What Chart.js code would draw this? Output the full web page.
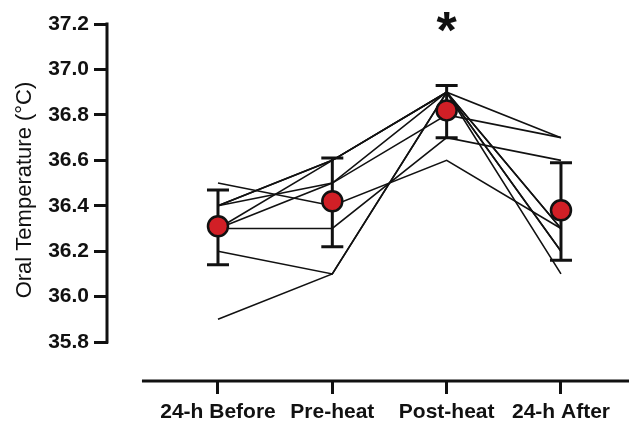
<!DOCTYPE html>
<html>
<head>
<meta charset="utf-8">
<script src="https://cdn.jsdelivr.net/npm/chart.js@4.4.1/dist/chart.umd.min.js"></script>
<style>
    html, body { margin: 0; padding: 0; background: #fff; }
    #wrap { width: 629px; height: 425px; position: relative; }
</style>
</head>
<body>
<div id="wrap"><canvas id="tempChart"></canvas></div>
<script>
// Oral temperature per participant across the four time points

const timepoints = ['24-h Before', 'Pre-heat', 'Post-heat', '24-h After'];
const yTicks = [35.8, 36.0, 36.2, 36.4, 36.6, 36.8, 37.0, 37.2];

// Individual participants (thin black lines)
const subject1 = [36.5, 36.4, 36.6, 36.3];
const subject2 = [36.3, 36.3, 36.7, 36.6];
const subject3 = [36.2, 36.1, 36.9, 36.2];
const subject4 = [35.9, 36.1, 36.9, 36.1];
const subject5 = [36.4, 36.6, 36.9, 36.7];
const subject6 = [36.4, 36.6, 36.9, 36.3];
const subject7 = [36.4, 36.5, 36.8, 36.7];
const subject8 = [36.3, 36.6, 36.9, 36.2];
const subject9 = [36.3, 36.5, 36.9, 36.3];
const subjects = [subject1, subject2, subject3, subject4, subject5, subject6, subject7, subject8, subject9];

// Group mean and error bar ends
const meanTemp = [36.31, 36.42, 36.82, 36.38];
const errHigh = [36.47, 36.61, 36.93, 36.59];
const errLow = [36.14, 36.22, 36.70, 36.16];

// Significance marker
const sigIndex = 2;
const sigLabel = '*';
const sigY = 37.21;

const FONT = "'Liberation Sans', Arial, sans-serif";
const INK = '#111';

function toPoints(arr) {
    return arr.map((v, i) => ({ x: i, y: v }));
}

// Ejes separados, barras de error y asterisco
const decorPlugin = {
    id: 'decor',
    beforeDatasetsDraw(chart) {
        const { ctx, chartArea, scales: { x, y } } = chart;
        ctx.save();
        ctx.strokeStyle = INK;
        ctx.lineWidth = 3;

        // eje Y: solo entre 35.8 y 37.2
        ctx.beginPath();
        ctx.moveTo(chartArea.left - 1, y.getPixelForValue(yTicks[yTicks.length - 1]) - 1.5);
        ctx.lineTo(chartArea.left - 1, y.getPixelForValue(yTicks[0]) + 1.5);
        ctx.stroke();

        // eje X: separado del eje Y
        ctx.beginPath();
        ctx.moveTo(x.getPixelForValue(-0.665), chartArea.bottom + 1);
        ctx.lineTo(chartArea.right, chartArea.bottom + 1);
        ctx.stroke();

        // barras de error
        meanTemp.forEach((m, i) => {
            const px = x.getPixelForValue(i);
            const yHi = y.getPixelForValue(errHigh[i]);
            const yLo = y.getPixelForValue(errLow[i]);
            ctx.beginPath();
            ctx.moveTo(px, yHi);
            ctx.lineTo(px, yLo);
            ctx.moveTo(px - 11, yHi);
            ctx.lineTo(px + 11, yHi);
            ctx.moveTo(px - 11, yLo);
            ctx.lineTo(px + 11, yLo);
            ctx.stroke();
        });
        ctx.restore();
    },
    afterDraw(chart) {
        const { ctx, scales: { x, y } } = chart;
        ctx.save();
        ctx.fillStyle = INK;
        ctx.font = 'bold 52px ' + FONT;
        ctx.textAlign = 'center';
        ctx.textBaseline = 'alphabetic';
        const m = ctx.measureText(sigLabel);
        const cy = y.getPixelForValue(sigY);
        const base = cy + (m.actualBoundingBoxAscent - m.actualBoundingBoxDescent) / 2;
        ctx.fillText(sigLabel, x.getPixelForValue(sigIndex), base);
        ctx.restore();
    }
};

const datasets = [{
    label: 'Mean',
    data: toPoints(meanTemp),
    showLine: false,
    pointRadius: 10,
    pointBackgroundColor: '#d11f26',
    pointBorderColor: INK,
    pointBorderWidth: 2.5
}];

subjects.forEach((s, i) => {
    datasets.push({
        label: 'Participant ' + (i + 1),
        data: toPoints(s),
        borderColor: INK,
        borderWidth: 1.6,
        pointRadius: 0,
        tension: 0,
        fill: false
    });
});

new Chart(document.getElementById('tempChart'), {
    type: 'line',
    data: { datasets },
    plugins: [decorPlugin],
    options: {
        responsive: true,
        maintainAspectRatio: false,
        animation: false,
        devicePixelRatio: 1,
        layout: { padding: 0, autoPadding: false },
        plugins: {
            legend: { display: false },
            tooltip: { enabled: false }
        },
        scales: {
            x: {
                type: 'linear',
                min: -0.962,
                max: 3.595,
                afterBuildTicks: (scale) => {
                    scale.ticks = timepoints.map((_, i) => ({ value: i }));
                },
                afterFit: (scale) => {
                    scale.height = 45;
                    scale.paddingLeft = 0;
                    scale.paddingRight = 0;
                },
                border: { display: false },
                grid: {
                    drawOnChartArea: false,
                    drawTicks: true,
                    tickLength: 14,
                    lineWidth: 3,
                    color: INK
                },
                ticks: {
                    autoSkip: false,
                    maxRotation: 0,
                    padding: 6,
                    color: INK,
                    font: { family: FONT, size: 21, weight: 'bold' },
                    callback: (value, index) => timepoints[index]
                }
            },
            y: {
                min: 35.633,
                max: 37.306,
                afterBuildTicks: (scale) => {
                    scale.ticks = yTicks.map(v => ({ value: v }));
                },
                afterFit: (scale) => {
                    scale.width = 108;
                    scale.paddingTop = 0;
                    scale.paddingBottom = 0;
                },
                border: { display: false },
                grid: {
                    drawOnChartArea: false,
                    drawTicks: true,
                    tickLength: 14,
                    lineWidth: 3,
                    color: INK
                },
                ticks: {
                    padding: 5,
                    color: INK,
                    font: { family: FONT, size: 21, weight: 'bold' },
                    callback: (value) => value.toFixed(1)
                },
                title: {
                    display: true,
                    text: 'Oral Temperature (°C)',
                    color: INK,
                    padding: { top: 12, bottom: 0 },
                    font: { family: FONT, size: 22 }
                }
            }
        }
    }
});
</script>
</body>
</html>
